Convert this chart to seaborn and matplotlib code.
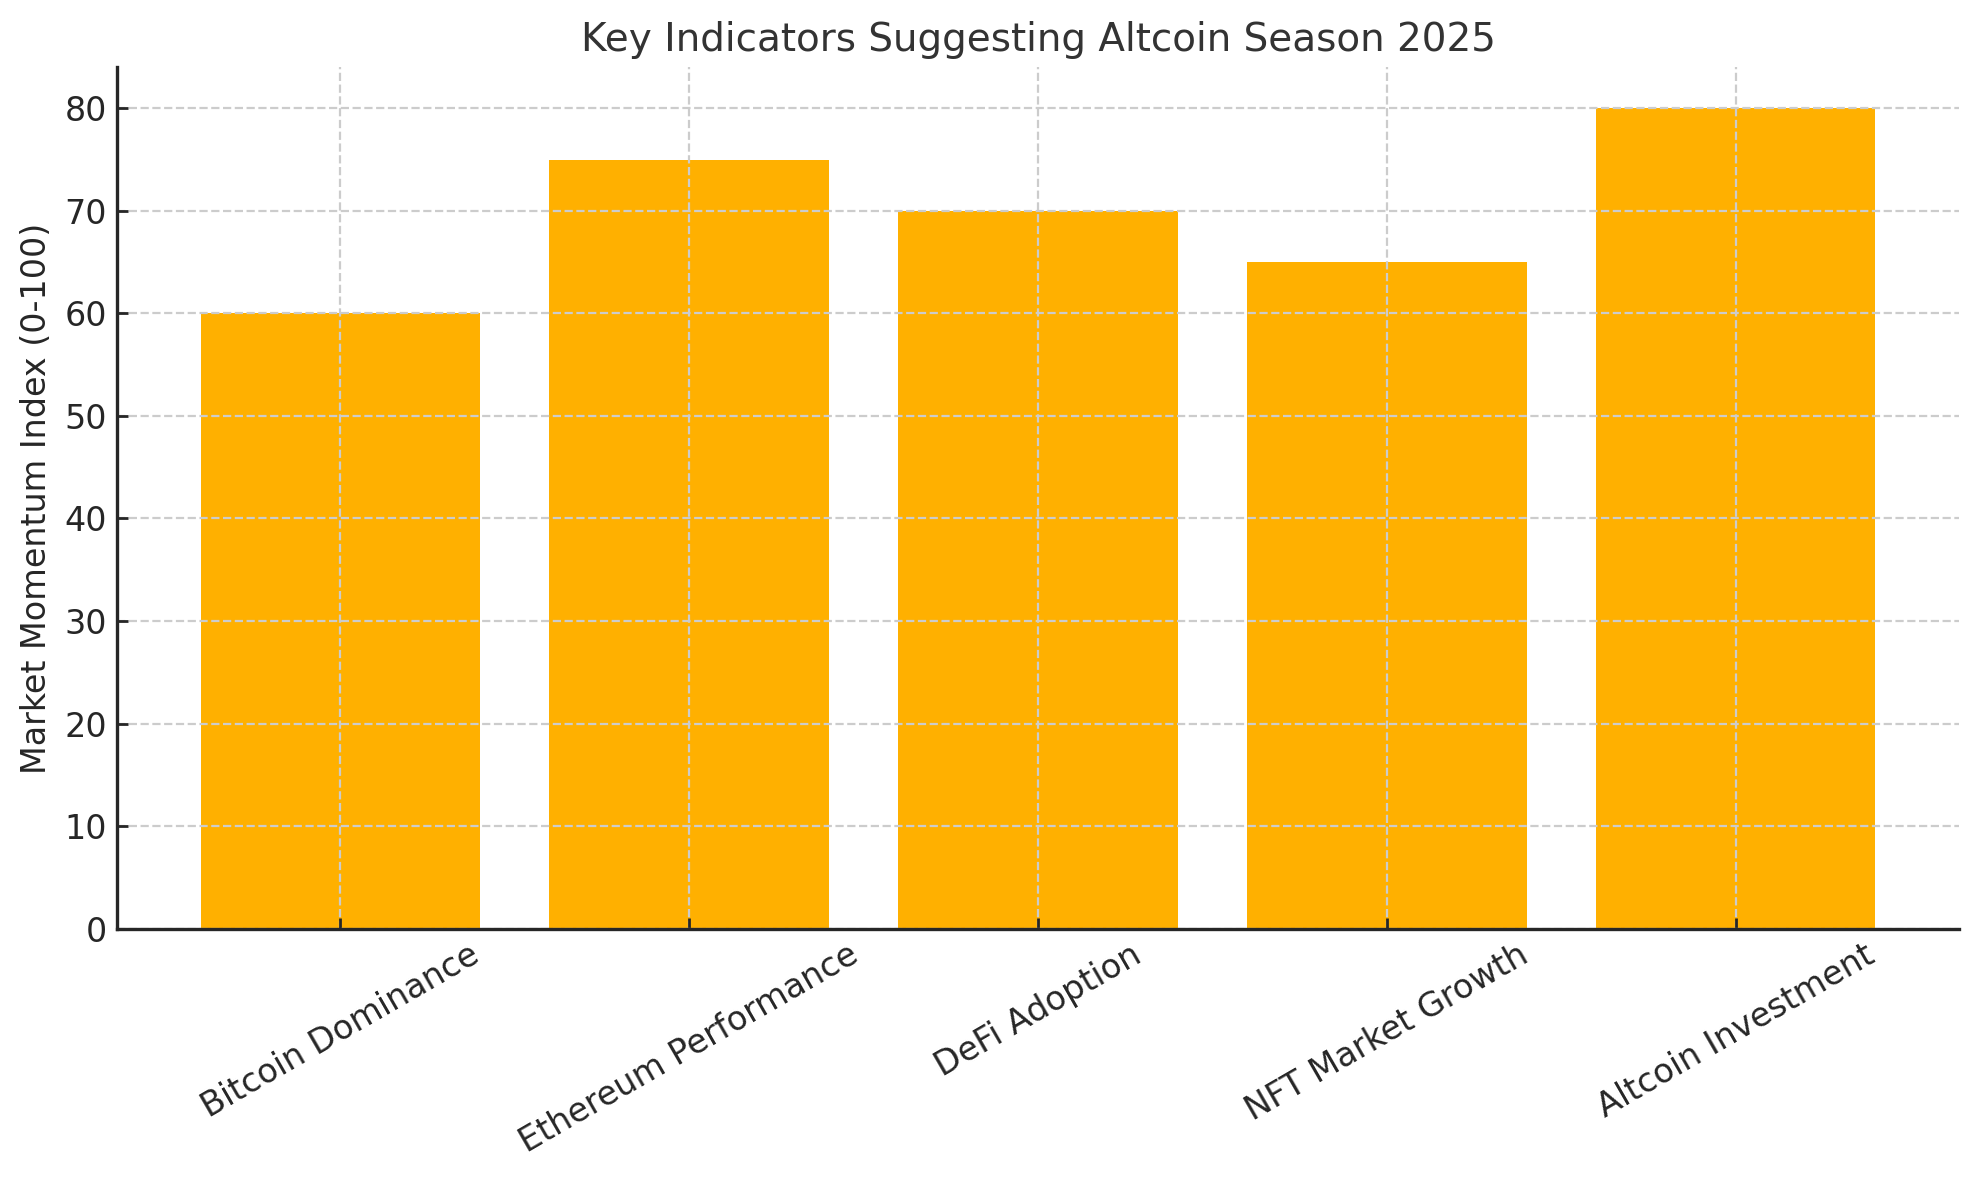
import matplotlib
matplotlib.use("Agg")
import matplotlib.pyplot as plt
import seaborn as sns
import pandas as pd

categories = ["Bitcoin Dominance", "Ethereum Performance", "DeFi Adoption",
              "NFT Market Growth", "Altcoin Investment"]
values = [60, 75, 70, 65, 80]

sns.set_theme(style="white")
plt.rcParams['font.family'] = ['DejaVu Sans']

df = pd.DataFrame({"Indicator": categories, "Value": values})

fig = plt.figure(figsize=(9.895, 5.9), dpi=200)
ax = fig.add_axes([0.059, 0.213, 0.931, 0.730])

sns.barplot(data=df, x="Indicator", y="Value", color="#FFB000",
            saturation=1, width=0.8, ax=ax, zorder=1,
            linewidth=0, edgecolor="none")

ax.grid(True, linestyle="--", color="#cccccc", linewidth=0.8)
ax.set_axisbelow(False)
for line in ax.get_xgridlines() + ax.get_ygridlines():
    line.set_zorder(2)

ax.set_ylim(0, 84)
ax.set_xlim(-0.64, 4.64)
ax.set_yticks(range(0, 81, 10))
ax.set_title("Key Indicators Suggesting Altcoin Season 2025", fontsize=14, color="#333333")
ax.set_ylabel("Market Momentum Index (0-100)", fontsize=12, color="#262626")
ax.set_xlabel("")
ax.tick_params(axis="both", labelsize=12, direction="in", length=4, width=1,
               colors="#262626", left=True, bottom=True)
ax.set_xticks(range(len(categories)))
ax.set_xticklabels(categories, rotation=30, ha="center")

for s in ["top", "right"]:
    ax.spines[s].set_visible(False)
for s in ["left", "bottom"]:
    ax.spines[s].set_color("#262626")
    ax.spines[s].set_linewidth(1.2)
    ax.spines[s].set_zorder(5)

fig.savefig("out.png", dpi=200)
